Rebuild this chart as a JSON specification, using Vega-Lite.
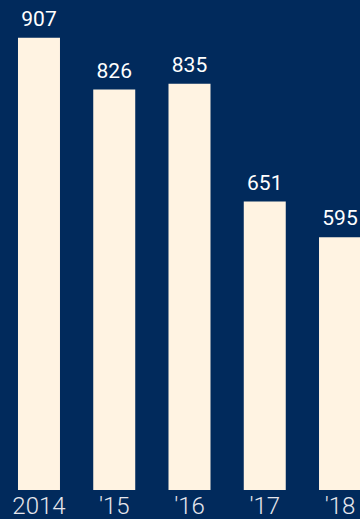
{
  "$schema": "https://vega.github.io/schema/vega-lite/v6.json",
  "autosize": "none",
  "width": 360,
  "height": 490,
  "padding": {"left": 0, "top": 0, "right": 0, "bottom": 29},
  "background": "#012a5c",
  "config": {"view": {"stroke": null}, "font": "Roboto"},
  "data": {"values": [
    {"year": "2014", "value": 907},
    {"year": "'15", "value": 826},
    {"year": "'16", "value": 835},
    {"year": "'17", "value": 651},
    {"year": "'18", "value": 595}
  ]},
  "encoding": {
    "x": {"field": "year", "type": "nominal", "sort": null,
      "scale": {"range": [0, 379], "paddingInner": 0.442, "paddingOuter": 0.239},
      "axis": {"title": null, "domain": false, "ticks": false, "tickSize": 0, "grid": false,
        "labelAngle": 0, "labelFont": "Roboto", "labelFontWeight": 300, "labelFontSize": 24,
        "labelColor": "#e6e6ec", "labelBaseline": "alphabetic", "labelPadding": 23}},
    "y": {"field": "value", "type": "quantitative",
      "scale": {"domain": [200, 966], "zero": false, "nice": false}, "axis": null}
  },
  "layer": [
    {"mark": {"type": "bar", "color": "#fff3e2", "clip": true},
     "encoding": {"y2": {"datum": 200}}},
    {"mark": {"type": "text", "color": "#ffffff", "font": "Roboto", "fontSize": 21, "baseline": "alphabetic", "dy": -12, "clip": true},
     "encoding": {"text": {"field": "value", "type": "quantitative"}}}
  ]
}
